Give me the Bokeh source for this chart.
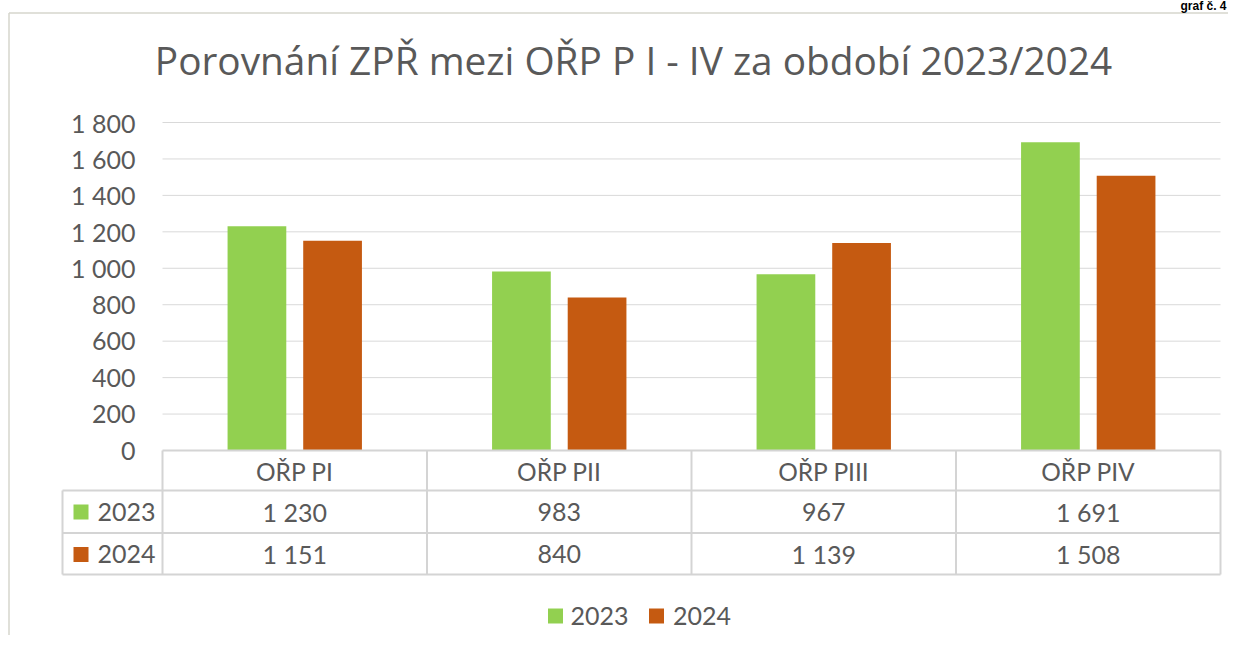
from bokeh.plotting import figure
from bokeh.models import Range1d
from bokeh.core.properties import value
from bokeh.embed import file_html
from bokeh.resources import INLINE

# ---------------- data ----------------
title_text = "Porovnání ZPŘ mezi OŘP P I - IV za období 2023/2024"
corner_text = "graf č. 4"
categories = ["OŘP PI", "OŘP PII", "OŘP PIII", "OŘP PIV"]
series_names = ["2023", "2024"]
values_2023 = [1230, 983, 967, 1691]
values_2024 = [1151, 840, 1139, 1508]
y_ticks = [0, 200, 400, 600, 800, 1000, 1200, 1400, 1600, 1800]
series_colors = ["#92D050", "#C55A11"]

# ---------------- styling / geometry ----------------
FONT = value("Lato")
TFONT = value("Open Sans")
TXT = "#595959"
GRID = "#d9d9d9"
TABLE = "#d4d4d4"
W, H = 1228, 635
PLOT_L, PLOT_R = 162.0, 1220.0      # px of category area
ZERO_Y, TOP_Y = 450.0, 122.0        # px of 0 and 1800
UX = (PLOT_R - PLOT_L) / len(categories)
UY = (ZERO_Y - TOP_Y) / 1800.0


def X(px):
    return (px - PLOT_L) / UX


def Y(py):
    return (ZERO_Y - py) / UY


def fmt(v):
    return f"{v:,}".replace(",", " ")


p = figure(width=W, height=H, output_backend="svg", toolbar_location=None,
           x_range=Range1d(X(0), X(W)), y_range=Range1d(Y(H), Y(0)),
           x_axis_location=None, y_axis_location=None, min_border=0,
           outline_line_color=None, background_fill_color="white",
           border_fill_color="white")
p.xgrid.visible = False
p.ygrid.visible = False

# outer chart border (left + top)
p.segment(x0=[X(8.5), X(8.5)], y0=[Y(12.5), Y(12.5)],
          x1=[X(W), X(8.5)], y1=[Y(12.5), Y(H)],
          line_color="#d6d6cc", line_width=1.5)

# corner caption
p.text(x=[X(1226)], y=[Y(5)], text=[corner_text], text_align="right",
       text_baseline="middle", text_font=value("Liberation Sans"),
       text_font_style="bold", text_font_size="12px", text_color="black")

# title
p.text(x=[X(633)], y=[Y(59.7)], text=[title_text], text_align="center",
       text_baseline="middle", text_font=TFONT, text_font_size="38.8px",
       text_color=TXT)

# gridlines
gy = [t for t in y_ticks if t > 0]
p.segment(x0=[X(PLOT_L)] * len(gy), x1=[X(PLOT_R)] * len(gy), y0=gy, y1=gy,
          line_color=GRID, line_width=1)

# y tick labels
p.text(x=[X(135)] * len(y_ticks), y=y_ticks, text=[fmt(t) for t in y_ticks],
       text_align="right", text_baseline="middle",
       text_font=FONT, text_font_size="25px", text_color=TXT)

# bars
n = len(categories)
off, bw = 0.143, 0.222
p.vbar(x=[i + 0.5 - off for i in range(n)], top=values_2023, bottom=0,
       width=bw, fill_color=series_colors[0], line_color=None)
p.vbar(x=[i + 0.5 + off for i in range(n)], top=values_2024, bottom=0,
       width=bw, fill_color=series_colors[1], line_color=None)

# data table lines
row_y = [450, 490, 532.5, 574]
hx0 = [X(PLOT_L), X(62), X(62), X(62)]
p.segment(x0=hx0, x1=[X(PLOT_R)] * 4, y0=[Y(r) for r in row_y],
          y1=[Y(r) for r in row_y], line_color=TABLE, line_width=2)
vx = [X(62)] + [float(i) for i in range(n + 1)]
vy0 = [Y(490)] + [Y(450)] * (n + 1)
p.segment(x0=vx, x1=vx, y0=vy0, y1=[Y(574)] * len(vx),
          line_color=TABLE, line_width=2)

# table texts
cx = [i + 0.5 for i in range(n)]
p.text(x=cx, y=[Y(471)] * n, text=categories, text_align="center",
       text_baseline="middle", text_font=FONT, text_font_size="24.5px",
       text_color=TXT)
p.text(x=cx, y=[Y(511)] * n, text=[fmt(v) for v in values_2023],
       text_align="center", text_baseline="middle", text_font=FONT,
       text_font_size="25px", text_color=TXT)
p.text(x=cx, y=[Y(553)] * n, text=[fmt(v) for v in values_2024],
       text_align="center", text_baseline="middle", text_font=FONT,
       text_font_size="25px", text_color=TXT)

# table legend keys
p.quad(left=[X(73)] * 2, right=[X(88)] * 2, top=[Y(504), Y(546.5)],
       bottom=[Y(519), Y(561.5)], fill_color=series_colors, line_color=None)
p.text(x=[X(97)] * 2, y=[Y(511), Y(553)], text=series_names,
       text_align="left", text_baseline="middle", text_font=FONT,
       text_font_size="25px", text_color=TXT)

# bottom legend
p.quad(left=[X(547.5), X(648.5)], right=[X(562.5), X(663.5)],
       top=[Y(608)] * 2, bottom=[Y(623)] * 2, fill_color=series_colors,
       line_color=None)
p.text(x=[X(570), X(672.5)], y=[Y(615.5)] * 2, text=series_names,
       text_align="left", text_baseline="middle", text_font=FONT,
       text_font_size="25px", text_color=TXT)

open("out.html", "w").write(file_html(p, INLINE))
